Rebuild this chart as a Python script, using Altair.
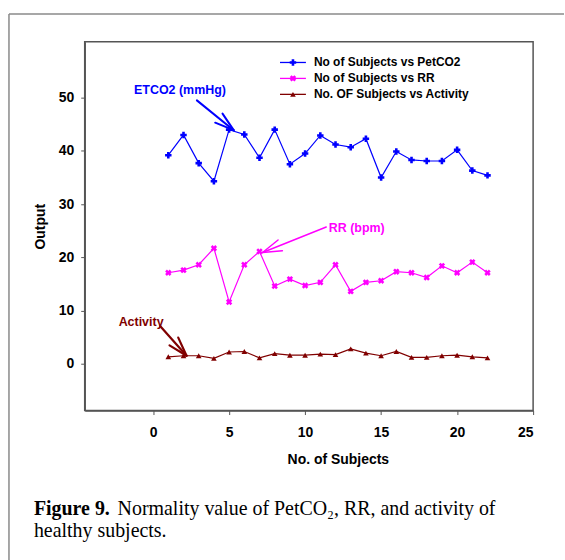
import math
import altair as alt
import pandas as pd

# ---------------- data ----------------
subjects = list(range(1, 23))
petco2 = [39.2, 43.0, 37.7, 34.3, 44.0, 43.1, 38.7, 44.0, 37.5, 39.5, 42.9,
          41.2, 40.7, 42.3, 35.0, 39.9, 38.3, 38.1, 38.1, 40.2, 36.3, 35.4]
rr = [17.1, 17.6, 18.6, 21.7, 11.6, 18.6, 21.1, 14.6, 15.9, 14.7, 15.3,
      18.6, 13.6, 15.3, 15.6, 17.3, 17.1, 16.2, 18.4, 17.1, 19.1, 17.1]
activity = [1.3, 1.5, 1.5, 1.0, 2.2, 2.3, 1.1, 1.9, 1.6, 1.6, 1.8,
            1.7, 2.8, 2.0, 1.5, 2.3, 1.2, 1.2, 1.5, 1.6, 1.3, 1.1]

series_names = ["No of Subjects vs PetCO2", "No of Subjects vs RR",
                "No. OF Subjects vs Activity"]
series_colors = ["#0000ff", "#ff00ff", "#800000"]
x_ticks = [0, 5, 10, 15, 20, 25]
y_ticks = [0, 10, 20, 30, 40, 50]

ann_text = ["ETCO2 (mmHg)", "RR (bpm)", "Activity"]
ann_text_x = [1.77, 13.4, -0.79]
ann_text_y = [51.4, 25.6, 7.75]
arrow_start_x = [2.88, 11.39, 0.46]
arrow_start_y = [49.5, 25.7, 7.1]
arrow_tip_x = [5.3, 7.2, 2.2]
arrow_tip_y = [43.9, 20.9, 1.5]

caption_bold = "Figure 9."
caption_line1 = "Normality value of PetCO\u2082, RR, and activity of"
caption_line2 = "healthy subjects."

# ---------------- layout ----------------
W, H = 450, 370
XD = [-4.5, 25]
YD = [-8.8, 60.5]
kx = W / (XD[1] - XD[0])
ky = H / (YD[1] - YD[0])

xs = alt.Scale(domain=XD, nice=False, zero=False)
ys = alt.Scale(domain=YD, nice=False, zero=False)

rows = []
for name, vals in zip(series_names, [petco2, rr, activity]):
    for s, v in zip(subjects, vals):
        rows.append({"subject": s, "value": v, "series": name})
df = pd.DataFrame(rows)

X = alt.X("subject:Q", scale=xs, title="No. of Subjects",
          axis=alt.Axis(values=x_ticks, format="d", titleX=254))
Y = alt.Y("value:Q", scale=ys, title="Output",
          axis=alt.Axis(values=y_ticks, format="d"))

base = alt.Chart(df)
lines = base.mark_line(strokeWidth=1.2).encode(
    x=X, y=Y,
    color=alt.Color("series:N", scale=alt.Scale(domain=series_names, range=series_colors), legend=None),
    detail="series:N",
)

shapes = ["cross", "cross", "triangle-up"]
angles = [0, 45, 0]
sizes = [42, 42, 32]
point_layers = []
for name, col, shp, ang, sz in zip(series_names, series_colors, shapes, angles, sizes):
    point_layers.append(
        base.transform_filter(alt.datum.series == name)
        .mark_point(shape=shp, angle=ang, size=sz, filled=True, color=col, opacity=1)
        .encode(x=X, y=Y)
    )

# legend (drawn as decoration in the top-right of the plot)
one = pd.DataFrame({"a": [0]})
legend_layers = []
for i, (name, col, shp, ang, sz) in enumerate(zip(series_names, series_colors, shapes, angles, sizes)):
    yy = 20.7 + 16 * i
    legend_layers.append(alt.Chart(one).mark_rule(color=col, strokeWidth=1.3).encode(
        x=alt.value(196), x2=alt.value(222), y=alt.value(yy)))
    legend_layers.append(alt.Chart(one).mark_point(
        shape=shp, angle=ang, size=sz, filled=True, color=col, opacity=1).encode(
        x=alt.value(209), y=alt.value(yy)))
    legend_layers.append(alt.Chart(one).mark_text(
        font="Liberation Sans", fontSize=12, fontWeight="bold", color="black",
        align="left", baseline="middle").encode(
        x=alt.value(230), y=alt.value(yy), text=alt.value(name)))

# annotations
ann_df = pd.DataFrame({"t": ann_text, "x": ann_text_x, "y": ann_text_y, "c": series_colors})
ann_text_layer = alt.Chart(ann_df).mark_text(
    font="Liberation Sans", fontSize=12.5, fontWeight="bold", align="center", baseline="middle"
).encode(
    x=alt.X("x:Q", scale=xs), y=alt.Y("y:Q", scale=ys), text="t:N",
    color=alt.Color("c:N", scale=None),
)

segs = []
widths = [2.0, 1.5, 2.2]
for i in range(3):
    sx, sy = arrow_start_x[i], arrow_start_y[i]
    tx, ty = arrow_tip_x[i], arrow_tip_y[i]
    col = series_colors[i]
    segs.append({"x": sx, "y": sy, "x2": tx, "y2": ty, "c": col, "w": widths[i]})
    ang = math.atan2((sy - ty) * ky, (sx - tx) * kx)
    for sgn in (1, -1):
        a = ang + sgn * math.radians(17)
        segs.append({"x": tx, "y": ty,
                     "x2": tx + 20 * math.cos(a) / kx,
                     "y2": ty + 20 * math.sin(a) / ky,
                     "c": col, "w": widths[i]})
seg_df = pd.DataFrame(segs)
arrows = alt.Chart(seg_df).mark_rule(strokeCap="round").encode(
    x=alt.X("x:Q", scale=xs), y=alt.Y("y:Q", scale=ys),
    x2="x2:Q", y2="y2:Q",
    color=alt.Color("c:N", scale=None),
    strokeWidth=alt.StrokeWidth("w:Q", scale=None),
)

# figure frame and caption (decoration)
frame_v = alt.Chart(one).mark_rule(color="#8a8a8a", strokeWidth=1.5).encode(
    x=alt.value(-76), y=alt.value(-28), y2=alt.value(520))
frame_h = alt.Chart(one).mark_rule(color="#8a8a8a", strokeWidth=1.5).encode(
    x=alt.value(-76), x2=alt.value(481), y=alt.value(-28))
cap1 = alt.Chart(one).mark_text(font="Liberation Serif", fontSize=20, fontWeight="bold",
                                align="left", baseline="alphabetic", color="black").encode(
    x=alt.value(-51), y=alt.value(475), text=alt.value(caption_bold))
cap2 = alt.Chart(one).mark_text(font="Liberation Serif", fontSize=20,
                                align="left", baseline="alphabetic", color="black").encode(
    x=alt.value(33), y=alt.value(475), text=alt.value(caption_line1))
cap3 = alt.Chart(one).mark_text(font="Liberation Serif", fontSize=20,
                                align="left", baseline="alphabetic", color="black").encode(
    x=alt.value(-51), y=alt.value(497), text=alt.value(caption_line2))

chart = alt.layer(
    frame_v, frame_h, lines, *point_layers, *legend_layers, arrows, ann_text_layer, cap1, cap2, cap3
).properties(
    width=W, height=H, padding={"left": 8, "top": 12, "right": 0, "bottom": 0},
    background="white",
).configure_view(
    stroke="#555555", strokeWidth=1.5
).configure_axis(
    grid=False, domainColor="#555555", domainWidth=1.5, tickColor="#555555", tickSize=4,
    labelFont="Liberation Sans", labelFontSize=14, labelFontWeight="bold", labelColor="black",
    titleFont="Liberation Sans", titleFontSize=14, titleFontWeight="bold", titleColor="black",
).configure_axisX(
    labelPadding=11, titlePadding=13,
).configure_axisY(
    labelPadding=7, titlePadding=11,
)

chart.save("out.html", embed_options={"renderer": "svg", "actions": False})
